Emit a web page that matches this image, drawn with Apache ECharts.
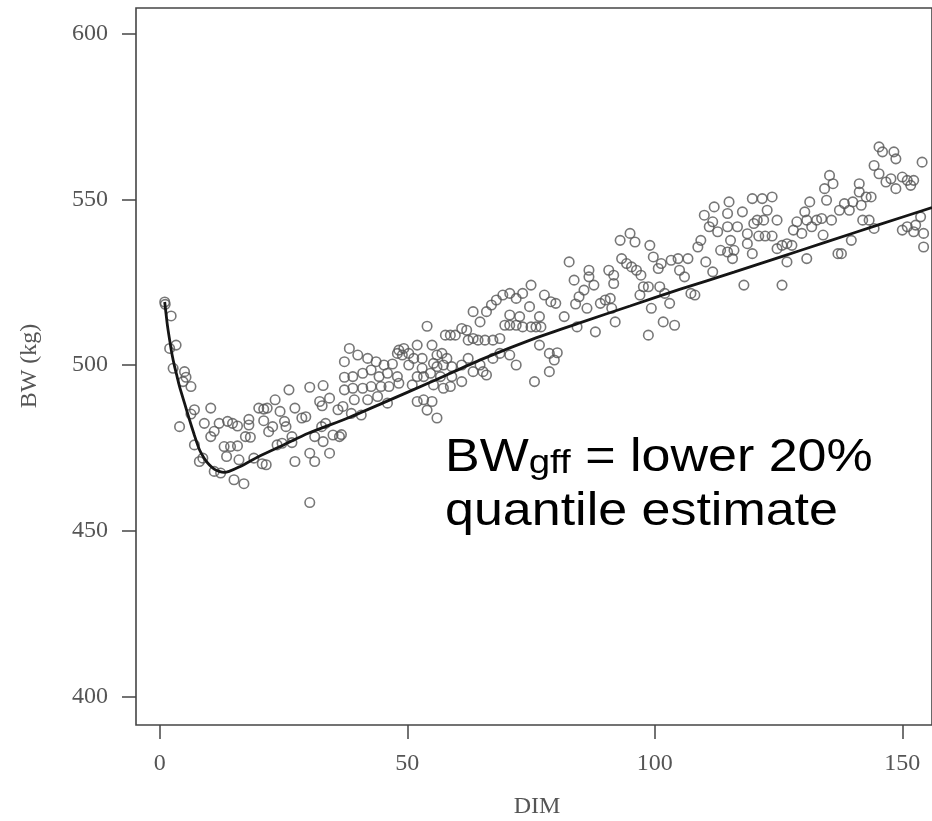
<!DOCTYPE html>
<html>
<head>
<meta charset="utf-8">
<script src="https://cdn.jsdelivr.net/npm/echarts@6/dist/echarts.min.js"></script>
<style>
  html, body { margin: 0; padding: 0; background: #ffffff; }
  #chart { width: 932px; height: 821px; }
</style>
</head>
<body>
<div id="chart"></div>
<script>
// ---- data ----
const xTicks = [0, 50, 100, 150];
const yTicks = [400, 450, 500, 550, 600];
const xTitle = 'DIM';
const yTitle = 'BW (kg)';

// fitted lower 20% quantile curve
const curveDim = [1, 1.5, 2, 2.5, 3, 3.5, 4, 5, 6, 7, 8, 9, 10, 11, 12, 13, 14, 16, 20, 25, 30, 38, 45, 55, 65, 76, 85, 95, 105, 116, 125, 135, 145, 156];
const curveBW  = [519, 512.5, 507.5, 503, 499.5, 496.5, 493.5, 488.5, 483.5, 478.8, 474.5, 471.8, 469.9, 468.6, 467.9, 467.6, 467.9, 469.2, 472.4, 475.9, 479.4, 484, 488.5, 495, 501.7, 508.2, 512.8, 517.8, 522.8, 528, 532.4, 537.3, 542.2, 547.5];

// observed body weights [DIM, BW]
const obsEarly = [
  [1,519],[1.1,518.3],[2.3,514.8],[2,505],[3.3,506],[2.7,499],[5,498],[5.3,496.3],[4.7,495],[6.3,493.5],
  [4,481.4],[7,486.5],[6.3,485.2],[10.3,487],[9,482.4],[12,482.4],[13.7,483],[14.7,482.4],[15.7,481.6],
  [10.3,478.4],[11,480],[7,475.9],[8,470.9],[8.7,471.9],[11,467.9],[12.3,467.4],[15,465.4],[17,464.2],
  [13,475.4],[14.3,475.4],[15.7,475.6],[13.5,472.4],[16,471.4],[18,483.6],[18,481.9],[17.3,478.4],[18.3,478.2],
  [20,487],[21,486.7],[21.7,487],[21,483.2],[20.7,470.2],[21.5,469.9],[19,471.9],[22.8,481.4],[22,479.9],
  [23.3,489.5],[24.3,486],[25.2,483],[25.5,481.4],[26.1,492.5],[27.3,487],[28.7,484],[29.5,484.4],[26.7,478.4],
  [23.7,475.9],[24.7,476.4],[26.7,476.6],[27.3,470.9],[30.3,493.3],[33,493.8],[32.3,489],[32.8,487.7],[34.3,490],
  [32.7,481.4],[33.5,482.4],[31.3,478.4],[33,476.9],[30.3,473.4],[31.3,470.9],[34.3,473.4],[35,478.9],[36.3,478.4],
  [36,486.5],[37,487.5],[37.3,501],[37.3,496.3],[37.3,492.5],[30.3,458.5]
];
const obsMid = [
  [38.3,505],[40,503],[42,502],[48.3,504.5],[49.3,505],[52,506],[54,511.7],[55,506],[57.7,509],[58.7,509],
  [59.7,509],[61,511],[62,510.5],[63.3,516.1],[64.7,513],[66,516.1],[67,518.1],[68,519.6],[69.3,521.1],[70.7,521.6],
  [72,520.1],[73.3,521.6],[62.3,507.5],[63.3,508],[64.3,507.5],[65.7,507.5],[67.3,507.5],[68.7,508],[69.7,512],
  [70.7,512],[72,512],[73.3,511.5],[72.7,514.6],[70.7,515.1],[43.7,501],[45.3,500],[47,500.3],[48,503.5],[49,503],
  [50.3,503.5],[51.3,502],[53,502],[56,503],[57,503.5],[58,502],[50.3,500],[53,499],[55.3,500.5],[56,499.5],
  [57.3,500],[59,499.5],[61,500],[62.3,502],[64.7,500],[67.3,502],[68.7,503.5],[70.7,503],[72,500],[39,496.5],
  [41,497.5],[42.7,498.5],[44.3,496.5],[46,497.5],[48,496.5],[52,496.5],[53.3,496.5],[54.7,497.5],[56.7,496.5],
  [59,496.5],[61,495],[63.3,498],[65.3,498],[66,497],[39,493],[41,493],[42.7,493.5],[44.7,493.5],[46.3,493.5],
  [48.3,494.5],[51,494],[55.3,494],[57.3,493],[58.7,493.5],[39.3,489.5],[42,489.5],[44,490.5],[46,488.5],[52,489],
  [53.3,489.5],[55,489],[38.7,485.4],[40.7,484.9],[54,486.4],[56,484],[36.7,479]
];
const obsLate = [
  [75,524.1],[74.7,517.6],[76.7,514.6],[75,511.5],[76,511.5],[77,511.5],[77.7,521.1],[79,519.1],[80,518.6],
  [76.7,506],[78.7,503.5],[80.3,503.7],[79.7,501.5],[78.7,498],[75.7,495],[81.7,514.6],[82.7,531.1],[83.7,525.6],
  [84.7,520.6],[84,518.4],[85.7,522.6],[86.7,528.6],[86.7,526.6],[87.7,524.1],[86.3,517.1],[88,510],[84.3,511.5],
  [89,518.6],[90,519.6],[91,520.1],[91.3,517.1],[90.7,528.6],[91.7,527.1],[91.7,524.6],[92,513],[93,537.6],
  [93.3,532.1],[94.3,530.6],[95,539.7],[96,537.1],[95.3,529.6],[96.3,528.6],[97.2,527.1],[97.7,523.6],[97,521.1],
  [98.7,523.6],[99,536.1],[99.7,532.6],[99.3,517.1],[100.7,529.1],[101.3,530.6],[101,523.6],[102,521.6],[103,518.6],
  [103.3,531.6],[104.7,532.1],[105,528.6],[106.7,532.1],[106,526.6],[107.3,521.6],[108.1,521.1],[101.7,513],[104,512],
  [98.7,509],[108.7,535.6],[109.3,537.6],[110,545.2],[111,541.7],[111.7,543.2],[112,547.7],[112.7,540.2],[113.3,534.6],
  [110.3,531.1],[111.7,528.1]
];
const obsEnd = [
  [115,549.2],[114.7,545.7],[114.7,541.7],[115.3,537.6],[114.7,534.1],[116,534.6],[115.7,532.1],[117.7,546.2],
  [116.7,541.7],[118.7,539.6],[118.7,536.6],[120,542.7],[119.7,533.6],[118,524.1],[119.7,550.2],[121.7,550.2],
  [123.7,550.7],[122.7,546.7],[120.7,543.7],[122,543.7],[124.7,543.7],[121,538.9],[122.3,538.9],[123.7,538.9],
  [124.7,535.1],[125.7,536.1],[126.7,536.6],[127.7,536.1],[125.7,524.1],[126.7,531.1],[128,540.7],[128.7,543.2],
  [130.3,546.2],[131.3,549.2],[130.7,543.7],[131.7,541.7],[129.7,539.7],[130.7,532.1],[132.7,543.7],[133.7,544.2],
  [134,539.2],[135.7,543.7],[134.3,553.2],[135.3,557.2],[136,554.7],[134.7,549.7],[137.3,546.7],[138.3,548.7],
  [139.3,546.7],[140,549.2],[141.3,554.7],[141.3,552.2],[141.7,548.2],[142.7,550.7],[143.7,550.7],[139.7,537.6],
  [137,533.6],[137.7,533.6],[142,543.7],[143.3,543.7],[144.3,541.2],[144.3,560.2],[145.3,565.8],[146,564.3],
  [145.3,557.7],[146.7,555.2],[147.7,556.2],[148.3,564.3],[148.7,562.2],[148.7,553.2],[150,556.7],[151,555.7],
  [151.7,554.2],[152.3,555.7],[150,540.7],[151,541.7],[152.3,540.2],[152.7,542.2],[153.7,544.7],[154,561.2],
  [154.3,535.6],[154.3,539.7]
];

// ---- chart ----
const observations = obsEarly.concat(obsMid, obsLate, obsEnd);
const curve = curveDim.map((d, i) => [d, curveBW[i]]);

const chart = echarts.init(document.getElementById('chart'), null, { renderer: 'canvas' });
const serif = '"Liberation Serif", "Times New Roman", serif';
const sans = '"Liberation Sans", Arial, sans-serif';
const axisGray = '#454545';
const textGray = '#555555';

chart.setOption({
  animation: false,
  backgroundColor: '#ffffff',
  grid: {
    left: 136, top: 8, right: -6, bottom: 96,
    show: true, borderColor: axisGray, borderWidth: 1.6, backgroundColor: 'transparent'
  },
  xAxis: {
    type: 'value', min: -4.8, max: 156,
    axisLine: { show: false, onZero: false },
    axisTick: { show: true, customValues: xTicks, length: 14, lineStyle: { color: axisGray, width: 1.5 } },
    axisLabel: { customValues: xTicks, margin: 27, color: textGray, fontFamily: serif, fontSize: 24 },
    splitLine: { show: false }
  },
  yAxis: {
    type: 'value', min: 391.4, max: 607.7,
    axisLine: { show: false, onZero: false },
    axisTick: { show: true, customValues: yTicks, length: 14, lineStyle: { color: axisGray, width: 1.5 } },
    axisLabel: { customValues: yTicks, margin: 28, color: textGray, fontFamily: serif, fontSize: 24 },
    splitLine: { show: false }
  },
  series: [
    {
      type: 'scatter',
      data: observations,
      symbol: 'circle',
      symbolSize: 9.5,
      itemStyle: { color: 'transparent', borderColor: '#555555', borderWidth: 1.6 },
      z: 2
    },
    {
      type: 'line',
      data: curve,
      smooth: 0.2,
      symbol: 'none',
      lineStyle: { color: '#151515', width: 2.8 },
      z: 3
    }
  ],
  graphic: [
    {
      type: 'text', x: 537, y: 807,
      style: { text: xTitle, fill: textGray, font: '24px ' + serif, align: 'center', verticalAlign: 'middle' }
    },
    {
      type: 'text', x: 30, y: 366, rotation: Math.PI / 2,
      style: { text: yTitle, fill: textGray, font: '24px ' + serif, align: 'center', verticalAlign: 'middle' }
    },
    {
      type: 'text', x: 445, y: 481, scaleX: 1.13,
      style: {
        text: '{m|BW}{s|gff}{m| = lower 20%}',
        align: 'left', verticalAlign: 'bottom',
        rich: {
          m: { fontFamily: sans, fontSize: 46, lineHeight: 46, fill: '#000', verticalAlign: 'bottom' },
          s: { fontFamily: sans, fontSize: 34, lineHeight: 34, fill: '#000', verticalAlign: 'bottom' }
        }
      }
    },
    {
      type: 'text', x: 445, y: 535, scaleX: 1.13,
      style: {
        text: 'quantile estimate',
        fill: '#000', font: '46px ' + sans,
        align: 'left', verticalAlign: 'bottom', lineHeight: 46
      }
    }
  ]
});
</script>
</body>
</html>
